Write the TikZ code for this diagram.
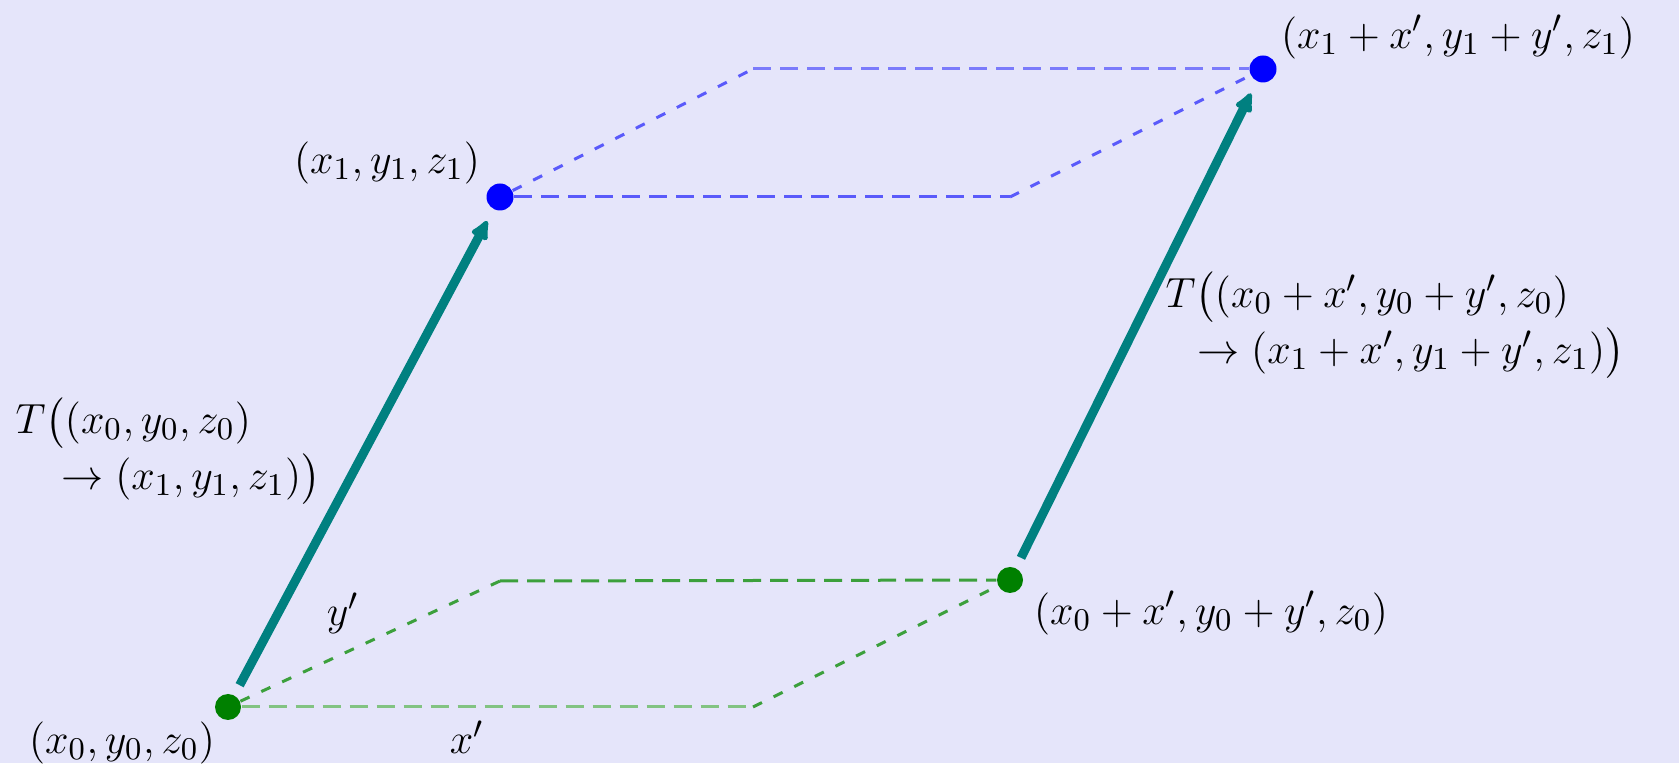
\documentclass[tikz,border=0pt]{standalone}
\usepackage{amsmath}
\usetikzlibrary{arrows.meta}

\definecolor{bgviolet}{RGB}{229,229,250}
\definecolor{arrowteal}{RGB}{0,128,128}
\definecolor{dotgreen}{RGB}{0,128,0}
\definecolor{dashgreen}{RGB}{60,160,60}
\definecolor{palegreen}{RGB}{130,195,130}
\definecolor{dashblue}{RGB}{90,90,250}

\begin{document}
\begin{tikzpicture}[x=0.1mm, y=-0.1mm,
    lbl/.style={inner sep=0pt, font=\fontsize{12.5}{16}\selectfont},
    gdot/.style={circle, fill=dotgreen, inner sep=0pt, minimum size=2.6mm},
    bdot/.style={circle, fill=blue, inner sep=0pt, minimum size=2.7mm},
    hdash/.style={line width=0.3mm, dash pattern=on 1.8mm off 0.9mm},
    ddash/.style={line width=0.3mm, dash pattern=on 1mm off 1.3mm},
    move/.style={line width=0.9mm, draw=arrowteal,
        -{Latex[round,length=2.4mm,width=2.2mm]}, shorten <=1.1mm, shorten >=1.3mm}]

        % Background
        \fill[bgviolet] (0,0) rectangle (1679,763);

        % Points
        \node[gdot] (s0) at (228,707) {};
        \node[bdot] (e0) at (500,197) {};
        \node[gdot] (s1) at (1010,580) {};
        \node[bdot] (e1) at (1263,69) {};
        \coordinate (gy) at (500,581);
        \coordinate (gx) at (753,707);
        \coordinate (by) at (753,69);
        \coordinate (bx) at (1010,197);

        % Parallelograms
        \draw[hdash, draw=palegreen] (s0) -- (gx);
        \draw[hdash, draw=dashgreen] (gy) -- (s1);
        \draw[ddash, draw=dashgreen] (s0) -- (gy);
        \draw[ddash, draw=dashgreen] (gx) -- (s1);
        \draw[hdash, draw=dashblue] (e0) -- (bx);
        \draw[hdash, draw=dashblue!80] (by) -- (e1);
        \draw[ddash, draw=dashblue] (e0) -- (by);
        \draw[ddash, draw=dashblue] (bx) -- (e1);

        % Moves
        \draw[move] (s0) -- (e0);
        \draw[move] (s1) -- (e1);

        % Labels
        \node[lbl] (l0) at (122,743) {$(x_0,y_0,z_0)$};
        \node[lbl] (l1) at (387,163) {$(x_1,y_1,z_1)$};
        \node[lbl] (l2) at (1211,613) {$(x_0+x',y_0+y',z_0)$};
        \node[lbl] (l3) at (1458,37) {$(x_1+x',y_1+y',z_1)$};
        \node[lbl] (ly) at (343,613) {$y'$};
        \node[lbl] (lx) at (467,737) {$x'$};
        \node[lbl, anchor=west, align=left] (tl) at (15,451)
            {$T\big((x_0,y_0,z_0)$\\ \hspace*{13pt}$\rightarrow(x_1,y_1,z_1)\big)$};
        \node[lbl, anchor=west, align=left] (tr) at (1165,325)
            {$T\big((x_0+x',y_0+y',z_0)$\\ \hspace*{9pt}$\rightarrow(x_1+x',y_1+y',z_1)\big)$};

    \end{tikzpicture}
\end{document}
